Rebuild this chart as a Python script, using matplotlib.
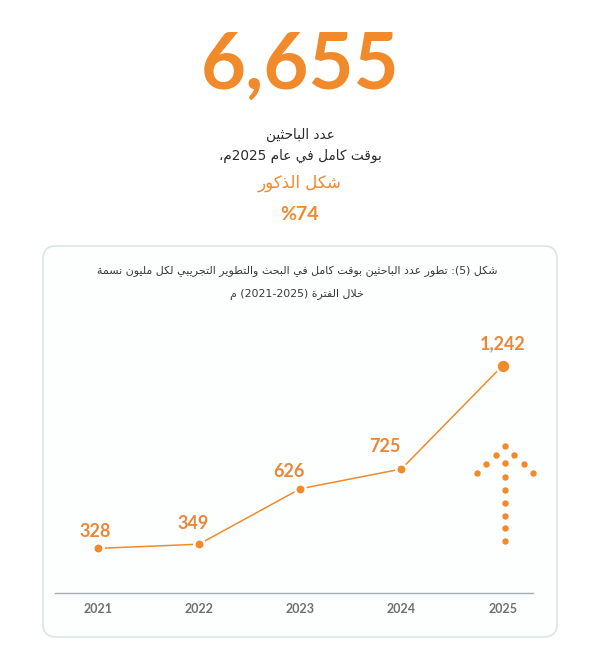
import re
import matplotlib
matplotlib.use("Agg")
import matplotlib.pyplot as plt
from matplotlib.patches import FancyBboxPatch

# data
years = [2021, 2022, 2023, 2024, 2025]
values = [328, 349, 626, 725, 1242]
value_labels = ["328", "349", "626", "725", "1,242"]
year_labels = ["2021", "2022", "2023", "2024", "2025"]

headline = "6,655"
sub1 = "عدد الباحثين"
sub2 = "بوقت كامل في عام 2025م،"
sub3 = "شكل الذكور"
sub4 = "%74"
title1 = "شكل (5): تطور عدد الباحثين بوقت كامل في البحث والتطوير التجريبي لكل مليون نسمة"
title2 = "خلال الفترة (2021-2025) م"

ORANGE = "#F08A2B"
LABEL_OR = "#E9873A"
DARK = "#2b2b2b"

# --- tiny arabic shaper (matplotlib has no shaping / bidi) ---
_counts = [1, 2, 2, 2, 2, 4, 2, 4, 2, 4, 4, 4, 4, 4, 2, 2, 2, 2, 4, 4, 4, 4,
           4, 4, 4, 4, 4, 4, 4, 4, 4, 4, 4, 2, 2, 4]
_letters = [chr(c) for c in range(0x0621, 0x063B)] + [chr(c) for c in range(0x0641, 0x064B)]
FORMS = {}
_p = 0xFE80
for ch, n in zip(_letters, _counts):
    FORMS[ch] = (_p, n)
    _p += n
LAM_ALEF = {"\u0627": 0xFEFB, "\u0623": 0xFEF7, "\u0625": 0xFEF9, "\u0622": 0xFEF5}


def _glyph(ch, prev_join, next_join):
    base, n = FORMS[ch]
    if n == 1:
        return chr(base)
    if n == 2:
        return chr(base + 1) if prev_join else chr(base)
    if prev_join and next_join:
        return chr(base + 3)
    if prev_join:
        return chr(base + 1)
    if next_join:
        return chr(base + 2)
    return chr(base)


def shape(s):
    out = []
    i = 0
    while i < len(s):
        ch = s[i]
        if ch not in FORMS:
            out.append(ch)
            i += 1
            continue
        prev = s[i - 1] if i > 0 else ""
        prev_join = prev in FORMS and FORMS[prev][1] == 4
        if ch == "\u0644" and i + 1 < len(s) and s[i + 1] in LAM_ALEF:
            lig = LAM_ALEF[s[i + 1]]
            out.append(chr(lig + 1) if prev_join else chr(lig))
            i += 2
            continue
        nxt = s[i + 1] if i + 1 < len(s) else ""
        next_join = FORMS[ch][1] == 4 and nxt in FORMS
        out.append(_glyph(ch, prev_join, next_join))
        i += 1
    return "".join(out)


def ar(s):
    s = shape(s)
    toks = re.findall(r"%?[0-9]+(?:[,.\-][0-9]+)*%?|.", s)
    mirror = {"(": ")", ")": "("}
    toks = [mirror.get(t, t) for t in toks[::-1]]
    return "".join(toks)


plt.rcParams["font.family"] = ["Lato", "DejaVu Sans"]

fig = plt.figure(figsize=(6, 6.5), dpi=100)
fig.patch.set_facecolor("white")

# background layer in pixel units
bg = fig.add_axes([0, 0, 1, 1], zorder=0)
bg.set_xlim(0, 600)
bg.set_ylim(650, 0)
bg.axis("off")

card = FancyBboxPatch((43, 246), 514, 391, boxstyle="round,pad=0,rounding_size=13",
                      facecolor="#fdfefe", edgecolor="#d8e3e3", linewidth=1.1)
bg.add_patch(card)

# dotted arrow decoration
ax_c = 505
for y in [446, 463, 477, 490, 503, 516, 528, 541]:
    bg.plot(ax_c, y, "o", color=ORANGE, markersize=4.6, markeredgewidth=0)
for k, y in enumerate([455, 464, 473]):
    dx = 9.3 * (k + 1)
    bg.plot([ax_c - dx, ax_c + dx], [y, y], "o", color=ORANGE, markersize=4.6,
            markeredgewidth=0, linestyle="none")

# header text
fig.text(0.5, 1 - 67 / 650, headline, ha="center", va="center", fontsize=56,
         fontweight="bold", color=ORANGE, family="Lato")
fig.text(0.5, 1 - 135 / 650, ar(sub1), ha="center", va="center", fontsize=9.8,
         color=DARK, family=["DejaVu Sans"])
fig.text(0.5, 1 - 156 / 650, ar(sub2), ha="center", va="center", fontsize=9.8,
         color=DARK, family=["DejaVu Sans"])
fig.text(0.5, 1 - 183 / 650, ar(sub3), ha="center", va="center", fontsize=12,
         color=ORANGE, family=["DejaVu Sans"])
fig.text(0.5, 1 - 214 / 650, ar(sub4), ha="center", va="center", fontsize=14,
         fontweight="bold", color=ORANGE, family="Lato")

# chart title inside card
fig.text(297 / 600, 1 - 271 / 650, ar(title1), ha="center", va="center", fontsize=7.9,
         color="#3a3a3a", family=["DejaVu Sans"])
fig.text(297 / 600, 1 - 294 / 650, ar(title2), ha="center", va="center", fontsize=7.9,
         color="#3a3a3a", family=["DejaVu Sans"])

# line chart
ax = fig.add_axes([55 / 600, 57 / 650, 478 / 600, 263 / 650], zorder=1)
ax.patch.set_alpha(0)
ax.plot(years, values, color=ORANGE, linewidth=1.1, zorder=2)
sizes = [7.5, 7.5, 7.5, 7.5, 10]
for x, v, ms in zip(years, values, sizes):
    ax.plot(x, v, "o", color=ORANGE, markersize=ms, markeredgecolor="white",
            markeredgewidth=1.8, zorder=3)
offsets = [(-3, 17), (-6, 21), (-11, 17), (-17, 23), (0, 22)]
for x, v, lab, off in zip(years, values, value_labels, offsets):
    ax.annotate(lab, (x, v), xytext=off, textcoords="offset pixels", ha="center",
                va="center", fontsize=13, fontweight="bold", color=LABEL_OR)

ax.set_xlim(2020.578, 2025.30)
ax.set_ylim(105, 1420)
ax.set_xticks(years)
ax.set_xticklabels(year_labels)
ax.set_yticks([])
for s in ["top", "left", "right"]:
    ax.spines[s].set_visible(False)
ax.spines["bottom"].set_color("#a3acae")
ax.spines["bottom"].set_linewidth(1.0)
ax.tick_params(axis="x", length=0, pad=7, labelsize=9, labelcolor="#6f6f6f")
for t in ax.get_xticklabels():
    t.set_fontweight("bold")

fig.savefig("out.png", dpi=100, facecolor="white")
